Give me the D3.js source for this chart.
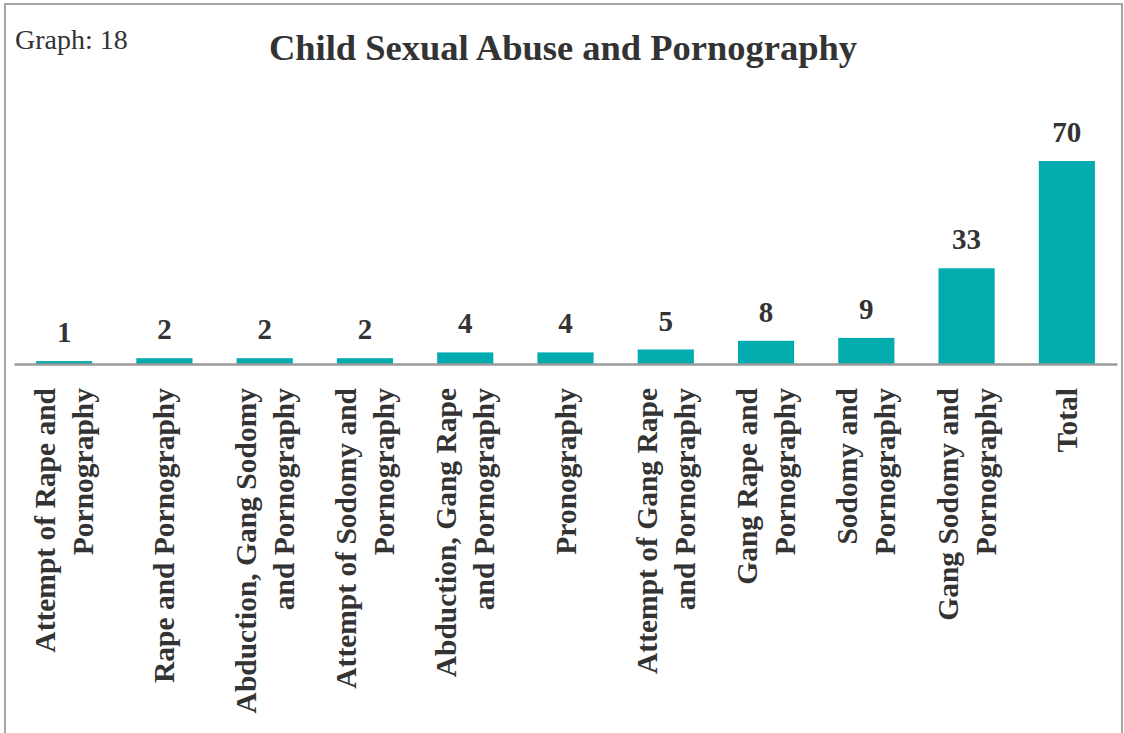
<!DOCTYPE html>
<html>
<head>
<meta charset="utf-8">
<script src="https://cdn.jsdelivr.net/npm/d3@7"></script>
<style>
  html, body { margin: 0; padding: 0; background: #fff; }
  svg { display: block; }
  text { font-family: "Liberation Serif", "Times New Roman", serif; fill: #333; }
</style>
</head>
<body>
<svg id="chart" width="1124" height="733"></svg>
<script>
// Offence categories (line breaks mark the wrapped axis labels)
const categories = [
  "Attempt of Rape and\nPornography",
  "Rape and Pornography",
  "Abduction, Gang Sodomy\nand Pornography",
  "Attempt of Sodomy and\nPornography",
  "Abduction, Gang Rape\nand Pornography",
  "Pronography",
  "Attempt of Gang Rape\nand Pornography",
  "Gang Rape and\nPornography",
  "Sodomy and\nPornography",
  "Gang Sodomy and\nPornography",
  "Total"
];
// Number of cases per category
const values = [1, 2, 2, 2, 4, 4, 5, 8, 9, 33, 70];

const title = "Child Sexual Abuse and Pornography";
const graphTag = "Graph: 18";

const svg = d3.select("#chart");

// outer frame
svg.append("rect")
  .attr("x", 5).attr("y", 4)
  .attr("width", 1117).attr("height", 740)
  .attr("fill", "none").attr("stroke", "#a6a6a6").attr("stroke-width", 2);

const x = d3.scaleBand()
  .domain(categories)
  .range([14, 1117])
  .paddingInner(0.44)
  .paddingOuter(0.22);

const y = d3.scaleLinear()
  .domain([0, 70])
  .range([364, 161]);

// bars
svg.append("g").selectAll("rect")
  .data(values)
  .join("rect")
  .attr("x", (d, i) => x(categories[i]))
  .attr("y", d => y(d))
  .attr("width", x.bandwidth())
  .attr("height", d => y(0) - y(d))
  .attr("fill", "#02abae");

// value labels
svg.append("g").selectAll("text")
  .data(values)
  .join("text")
  .attr("x", (d, i) => x(categories[i]) + x.bandwidth() / 2)
  .attr("y", d => y(d) - 19)
  .attr("text-anchor", "middle")
  .attr("font-size", 29)
  .attr("font-weight", "bold")
  .text(d => d);

// baseline axis
const axis = svg.append("g")
  .attr("transform", `translate(0,${y(0)})`)
  .call(d3.axisBottom(x).tickSize(0).tickFormat(""));
axis.select(".domain").attr("stroke", "#9a9a9a").attr("stroke-width", 2.5);

// rotated category labels
const lineGap = 38;
const labelSize = 29.5;
const lab = svg.append("g").selectAll("text")
  .data(categories)
  .join("text")
  .attr("text-anchor", "end")
  .attr("font-size", labelSize)
  .attr("font-weight", "bold")
  .attr("transform", d => {
    const cx = x(d) + x.bandwidth() / 2;
    const n = d.split("\n").length;
    const bx = cx + 10 - (n - 1) * lineGap / 2;
    return `translate(${bx},388) rotate(-90)`;
  });
lab.each(function(d) {
  const t = d3.select(this);
  d.split("\n").forEach((line, k) => {
    t.append("tspan")
      .attr("x", 0)
      .attr("y", k * lineGap)
      .text(line);
  });
});

// title and graph number
svg.append("text")
  .attr("x", 563).attr("y", 60)
  .attr("text-anchor", "middle")
  .attr("font-size", 36.5)
  .attr("font-weight", "bold")
  .text(title);

svg.append("text")
  .attr("x", 15).attr("y", 49)
  .attr("font-size", 28)
  .text(graphTag);
</script>
</body>
</html>
